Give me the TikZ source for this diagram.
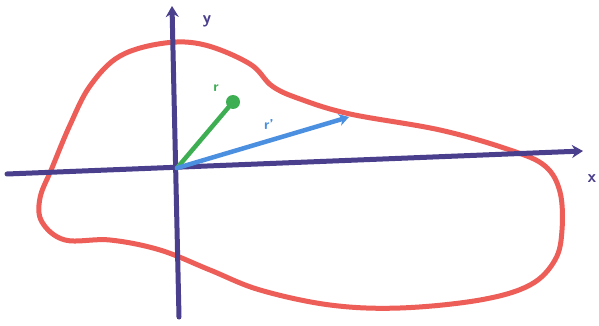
\documentclass[tikz,border=0pt]{standalone}
\usetikzlibrary{arrows.meta}
\definecolor{axiscol}{HTML}{4A3F8C}
\definecolor{blobcol}{HTML}{EE5E58}
\definecolor{rcol}{HTML}{3DAE52}
\definecolor{rpcol}{HTML}{4A8FE0}
\begin{document}
\begin{tikzpicture}[x=1pt,y=-1pt,
  axis/.style={draw=axiscol,line width=5pt,line cap=round,-{Stealth[length=11pt,width=13pt]}},
  blob/.style={draw=blobcol,line width=5pt},
  vec/.style={line width=4.5pt,line cap=round},
  lab/.style={font=\sffamily\bfseries\Large,inner sep=0pt},
  biglab/.style={font=\sffamily\bfseries\LARGE,inner sep=0pt}]
\useasboundingbox[fill=white] (0,0) rectangle (599,326);
% blob
\draw[blob] plot[smooth cycle,tension=0.6] coordinates {
  (165,43) (205,45) (250,64) (272,86) (300,99) (350,114) (440,130) (510,150)
  (545,166) (560,192) (562,230) (555,260) (530,285) (480,300) (400,308)
  (330,305) (260,290) (210,270) (160,250) (110,240) (65,240) (42,222)
  (40,198) (52,168) (70,125) (90,86) (120,56)};
% axes
\coordinate (O) at (177,168);
\coordinate (xl) at (7,174);
\coordinate (xr) at (583,151);
\coordinate (yb) at (179,317);
\coordinate (yt) at (172,6);
\draw[axis] (xl) -- (xr);
\draw[axis] (yb) -- (yt);
\node[biglab,text=axiscol] (ylab) at (207,21) {y};
\node[biglab,text=axiscol] (xlab) at (592,179) {x};
% vectors
\node[circle,fill=rcol,inner sep=0pt,minimum size=14pt] (P) at (233,102) {};
\draw[vec,draw=rcol] (O) -- (P);
\node[lab,text=rcol] (rlab) at (216,88) {r};
\coordinate (Q) at (349,117);
\draw[vec,draw=rpcol,-{Stealth[length=10pt,width=12pt]}] (O) -- (Q);
\node[lab,text=rpcol] (rplab) at (269,125) {r'};
\end{tikzpicture}
\end{document}
